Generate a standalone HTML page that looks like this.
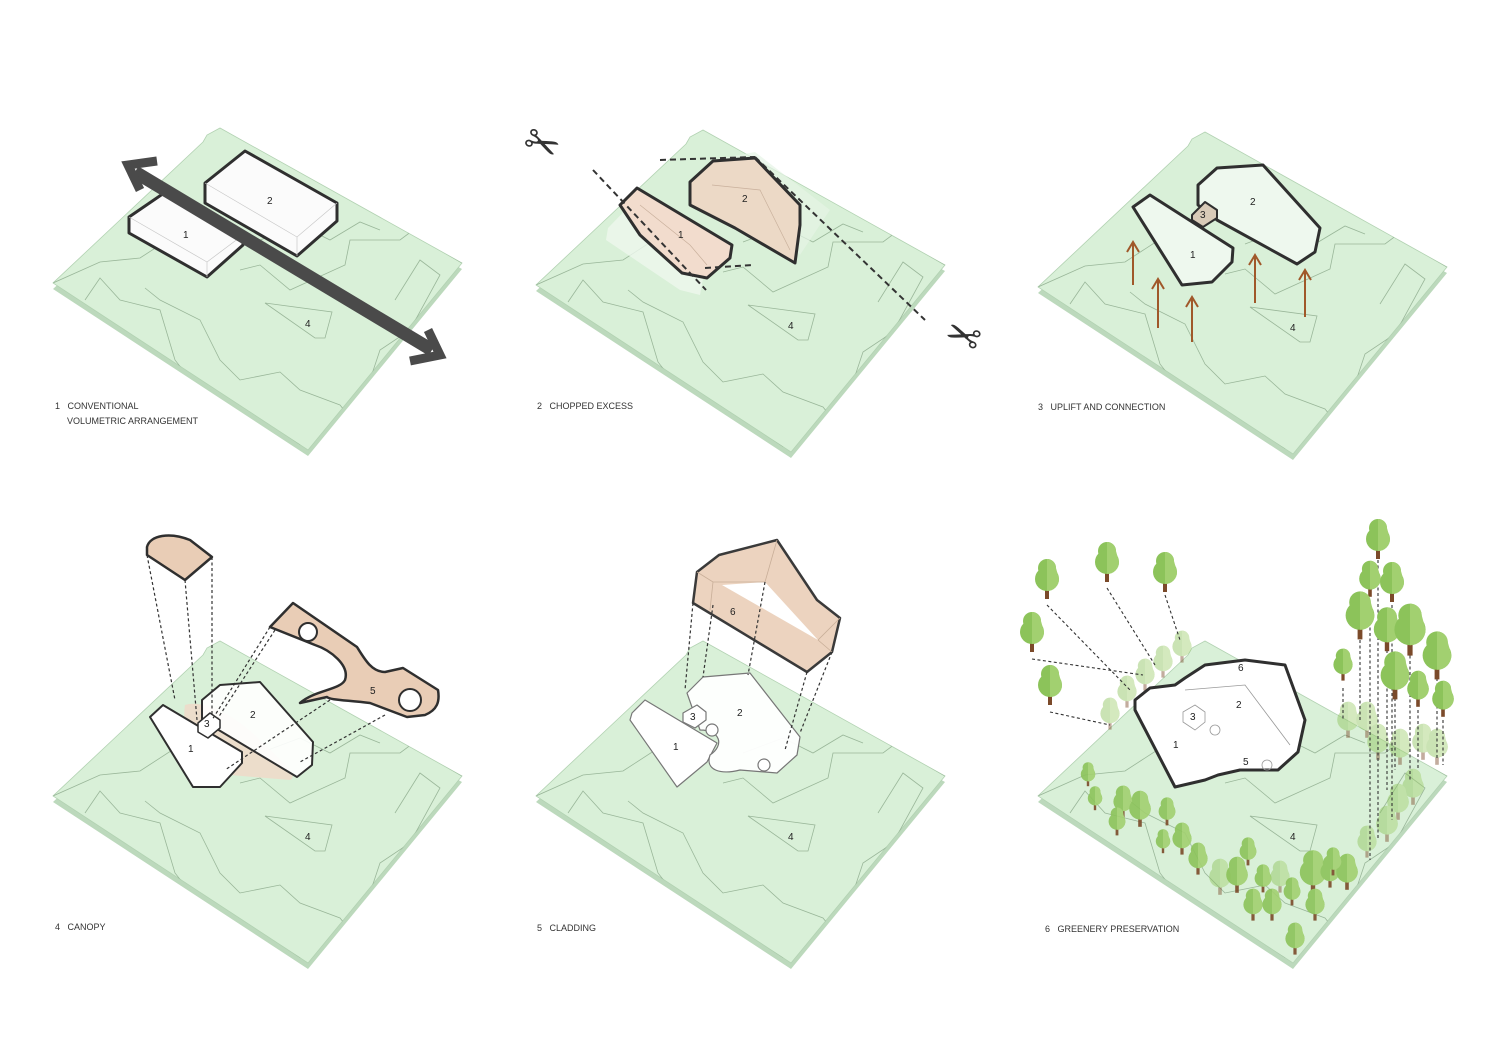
<!DOCTYPE html>
<html><head><meta charset="utf-8"><style>
html,body{margin:0;padding:0;background:#fff}
svg{display:block}
text{font-family:"Liberation Sans",Arial,sans-serif;fill:#333}
.lbl{font-size:9px}
.num{font-size:10px;fill:#222}
</style></head><body>
<svg width="1500" height="1061" viewBox="0 0 1500 1061" xmlns="http://www.w3.org/2000/svg">
<defs>
<clipPath id="sc"><polygon points="203,142 207,135 220,128 462,263 308,450 53,283"/></clipPath>
<g id="site">
  <polygon points="203,149 207,141 220,134 462,269 308,456 53,289" fill="#bcd9bc"/>
  <polygon points="203,142 207,135 220,128 462,263 308,450 53,283" fill="#d9f0d8" stroke="#b2d2b2" stroke-width="0.8"/>
  <g fill="none" stroke="#8aa88a" stroke-width="0.8" opacity="0.8" clip-path="url(#sc)">
    <polyline points="53,283 100,262 140,258 180,232 205,230"/>
    <polyline points="85,300 100,278 120,300 160,310 175,360 210,405 260,420 300,445"/>
    <polyline points="145,288 160,300 200,320 220,360 240,380 280,372 300,390 340,405 360,430"/>
    <polyline points="240,270 260,265 290,290 345,265 350,240 400,240 420,225 440,250 462,263"/>
    <polyline points="395,300 420,260 440,275 410,330 380,350 370,380 380,420"/>
    <polyline points="260,240 300,225 330,240 360,222 380,230"/>
    <polygon points="265,303 332,312 325,338 315,338"/>
  </g>
  <text x="305" y="327" class="num">4</text>
</g>
<g id="tr">
  <rect x="-2" y="8" width="4" height="14" fill="#7b4a2a"/>
  <circle cx="0" cy="-9" r="9" fill="#8cc35a"/>
  <circle cx="0" cy="2" r="12" fill="#8cc35a"/>
  <path d="M0,-18 A9,9 0 0 1 9,-9 L12,2 A12,12 0 0 1 0,14 Z" fill="#a2d070"/>
</g>
</defs>

<use href="#site"/>
<use href="#site" transform="translate(483,2)"/>
<use href="#site" transform="translate(985,4)"/>
<use href="#site" transform="translate(0,513)"/>
<use href="#site" transform="translate(483,513)"/>
<use href="#site" transform="translate(985,513)"/>

<!-- PANEL 1 -->
<g stroke="#2f2f2f" stroke-width="3" stroke-linejoin="round">
  <polygon points="129,217 167,191 243,235 243,245 207,277 129,233" fill="#fbfbfb"/>
  <polygon points="205,183 245,151 337,203 337,221 297,256 205,203" fill="#fbfbfb"/>
</g>
<g stroke="#c8c8c8" stroke-width="0.7" fill="none">
  <polyline points="129,217 207,262 243,235"/><line x1="207" y1="262" x2="207" y2="277"/>
  <polyline points="205,183 297,237 337,203"/><line x1="297" y1="237" x2="297" y2="256"/>
</g>
<text x="183" y="238" class="num">1</text><text x="267" y="204" class="num">2</text>
<line x1="135" y1="172" x2="432" y2="350" stroke="#4a4a4a" stroke-width="13"/>
<polyline points="157,161 128,165 140,190" fill="none" stroke="#4a4a4a" stroke-width="9"/>
<polyline points="410,361 440,355 428,330" fill="none" stroke="#4a4a4a" stroke-width="9"/>
<text x="55" y="409" class="lbl">1 &#160;&#160;CONVENTIONAL</text>
<text x="67" y="424" class="lbl">VOLUMETRIC ARRANGEMENT</text>

<!-- PANEL 2 -->
<polygon points="608,228 640,195 706,262 700,295 680,290 606,240" fill="#eef7ee" opacity="0.8"/>
<polygon points="712,160 755,152 830,210 800,255" fill="#e6f4e6" opacity="0.7"/>
<g stroke="#2f2f2f" stroke-width="3" stroke-linejoin="round">
  <polygon points="620,205 637,188 732,245 730,258 707,278 682,273 640,235" fill="#f2dccd"/>
  <polygon points="690,182 713,161 755,158 800,205 800,225 795,263 735,228 690,205" fill="#ecd9c6"/>
</g>
<g stroke="#c9b09c" stroke-width="0.7" fill="none">
  <polyline points="640,205 690,245 707,265"/><polyline points="712,185 760,190 790,250"/>
</g>
<text x="678" y="238" class="num">1</text><text x="742" y="202" class="num">2</text>
<g stroke="#333" stroke-width="2" stroke-dasharray="6,4" fill="none">
  <line x1="593" y1="170" x2="706" y2="290"/>
  <line x1="660" y1="160" x2="755" y2="157"/>
  <line x1="755" y1="157" x2="925" y2="320"/>
  <line x1="705" y1="268" x2="752" y2="265"/>
</g>
<text x="522" y="160" style="font-size:42px;fill:#333;font-family:'DejaVu Sans',sans-serif" transform="rotate(25 545 150)">✂</text>
<text x="918" y="345" style="font-size:42px;fill:#333;font-family:'DejaVu Sans',sans-serif" transform="rotate(200 950 330)">✂</text>
<text x="537" y="409" class="lbl">2 &#160;&#160;CHOPPED EXCESS</text>

<!-- PANEL 3 -->
<g stroke="#2f2f2f" stroke-width="3" stroke-linejoin="round">
  <polygon points="1133,207 1150,195 1233,248 1232,262 1212,282 1182,285" fill="#eef8ee"/>
  <polygon points="1198,185 1217,168 1263,165 1320,228 1315,252 1297,264 1217,220 1198,205" fill="#eef8ee"/>
  <polygon points="1192,215 1205,202 1217,210 1217,218 1203,227 1192,220" fill="#d9cbb8" stroke-width="2"/>
</g>
<text x="1190" y="258" class="num">1</text><text x="1250" y="205" class="num">2</text><text x="1200" y="218" class="num">3</text>
<g stroke="#a0582a" stroke-width="2" fill="none">
  <line x1="1133" y1="285" x2="1133" y2="242"/><polyline points="1127,252 1133,242 1139,252"/>
  <line x1="1158" y1="328" x2="1158" y2="279"/><polyline points="1152,289 1158,279 1164,289"/>
  <line x1="1192" y1="342" x2="1192" y2="297"/><polyline points="1186,307 1192,297 1198,307"/>
  <line x1="1255" y1="303" x2="1255" y2="255"/><polyline points="1249,265 1255,255 1261,265"/>
  <line x1="1305" y1="317" x2="1305" y2="270"/><polyline points="1299,280 1305,270 1311,280"/>
</g>
<text x="1038" y="410" class="lbl">3 &#160;&#160;UPLIFT AND CONNECTION</text>

<!-- PANEL 4 -->
<path d="M185,705 C200,700 230,710 260,740 C280,760 300,775 290,780 L230,775 C200,765 180,740 185,705 Z" fill="#f0d8c8" opacity="0.8"/>
<g stroke="#2f2f2f" stroke-width="2" stroke-linejoin="round">
  <polygon points="150,717 163,705 242,752 242,763 220,787 193,787" fill="#fff"/>
  <polygon points="202,700 220,685 260,682 313,742 312,765 297,777 202,720" fill="#fff" fill-opacity="0.9"/>
  <polygon points="198,723 210,713 220,720 220,728 208,738 198,732" fill="#fff" stroke-width="1.5"/>
</g>
<text x="188" y="752" class="num">1</text><text x="250" y="718" class="num">2</text><text x="204" y="727" class="num">3</text>
<g stroke="#2f2f2f" stroke-width="2.5" stroke-linejoin="round">
  <path d="M147,555 L147,547 C150,535 170,532 190,540 L212,557 L185,580 Z" fill="#e9cdb6"/>
  <path d="M270,627 L293,603 L357,647 C365,660 372,672 385,672 L403,668 L438,690 C440,702 437,710 425,715 L407,717 L370,703 C345,700 330,700 327,697 L300,703 C315,690 340,690 345,680 C350,665 330,650 315,645 Z" fill="#e9cdb6"/>
</g>
<circle cx="308" cy="632" r="9" fill="#fff" stroke="#2f2f2f" stroke-width="2"/>
<circle cx="410" cy="700" r="11" fill="#fff" stroke="#2f2f2f" stroke-width="2"/>
<text x="370" y="694" class="num">5</text>
<g stroke="#333" stroke-width="1.2" stroke-dasharray="3,2.5" fill="none">
  <line x1="147" y1="555" x2="175" y2="700"/><line x1="185" y1="580" x2="197" y2="720"/><line x1="212" y1="557" x2="212" y2="715"/>
  <line x1="270" y1="627" x2="212" y2="720"/><line x1="275" y1="630" x2="218" y2="718"/>
  <line x1="330" y1="700" x2="225" y2="770"/><line x1="385" y1="715" x2="300" y2="762"/>
</g>
<text x="55" y="930" class="lbl">4 &#160;&#160;CANOPY</text>

<!-- PANEL 5 -->
<g stroke="#777" stroke-width="1.2" stroke-linejoin="round" fill="#fff">
  <polygon points="632,713 645,700 717,743 707,762 677,787 630,720"/>
  <path d="M687,693 L703,677 L750,673 L800,737 L797,755 L777,773 L740,770 C720,775 705,770 710,755 C725,745 720,730 700,730 Z" fill="#fff" fill-opacity="0.95"/>
  <polygon points="683,713 697,705 706,712 706,720 695,728 683,722"/>
  <circle cx="712" cy="730" r="6"/><circle cx="764" cy="765" r="6"/>
</g>
<text x="673" y="750" class="num">1</text><text x="737" y="716" class="num">2</text><text x="690" y="720" class="num">3</text>
<path d="M697,572 L719,555 L777,540 L817,600 L840,618 L832,652 L807,672 L693,603 Z" fill="#ecd3bf" stroke="#3a3a3a" stroke-width="2.5" stroke-linejoin="round"/>
<polygon points="722,585 765,582 818,640" fill="#fff"/>
<g stroke="#c8ae98" stroke-width="0.8" fill="none"><polyline points="697,572 713,582 765,582 777,540"/><line x1="713" y1="582" x2="710" y2="610"/><polyline points="818,640 840,618"/><line x1="818" y1="640" x2="832" y2="652"/></g>
<text x="730" y="615" class="num">6</text>
<g stroke="#333" stroke-width="1.2" stroke-dasharray="3,2.5" fill="none">
  <line x1="693" y1="603" x2="685" y2="690"/><line x1="713" y1="605" x2="703" y2="677"/><line x1="765" y1="582" x2="748" y2="675"/>
  <line x1="807" y1="672" x2="785" y2="750"/><line x1="832" y1="652" x2="800" y2="733"/>
</g>
<text x="537" y="931" class="lbl">5 &#160;&#160;CLADDING</text>

<!-- PANEL 6 -->
<g opacity="0.45">
  <use href="#tr" transform="translate(1110,712) scale(0.8)"/><use href="#tr" transform="translate(1127,690) scale(0.8)"/>
  <use href="#tr" transform="translate(1145,673) scale(0.8)"/><use href="#tr" transform="translate(1163,660) scale(0.8)"/>
  <use href="#tr" transform="translate(1182,645) scale(0.8)"/>
  <use href="#tr" transform="translate(1348,718) scale(0.9)"/><use href="#tr" transform="translate(1367,718) scale(0.9)"/>
  <use href="#tr" transform="translate(1378,740) scale(0.9)"/><use href="#tr" transform="translate(1400,745) scale(0.9)"/>
  <use href="#tr" transform="translate(1423,740) scale(0.9)"/><use href="#tr" transform="translate(1437,745) scale(0.9)"/>
  <use href="#tr" transform="translate(1413,785) scale(0.9)"/><use href="#tr" transform="translate(1398,800) scale(0.9)"/>
  <use href="#tr" transform="translate(1387,822) scale(0.9)"/><use href="#tr" transform="translate(1367,840) scale(0.8)"/>
  <use href="#tr" transform="translate(1220,875) scale(0.9)"/><use href="#tr" transform="translate(1280,875) scale(0.8)"/>
</g>
<path d="M1135,700 L1150,688 L1175,685 L1185,678 L1205,665 L1245,660 L1285,665 L1305,720 L1298,752 L1278,770 L1240,770 L1218,775 L1205,780 L1175,787 L1135,710 Z" fill="#fff" stroke="#2f2f2f" stroke-width="3" stroke-linejoin="round"/>
<g stroke="#999" stroke-width="0.8" fill="none">
  <polygon points="1183,712 1195,705 1205,712 1205,722 1195,730 1183,722"/><polyline points="1185,690 1245,685 1290,745"/><circle cx="1215" cy="730" r="5"/><circle cx="1267" cy="765" r="5"/>
</g>
<text x="1173" y="748" class="num">1</text><text x="1236" y="708" class="num">2</text><text x="1190" y="720" class="num">3</text><text x="1243" y="765" class="num">5</text><text x="1238" y="671" class="num">6</text>
<g stroke="#333" stroke-width="1.1" stroke-dasharray="3,2.5" fill="none">
  <line x1="1047" y1="605" x2="1130" y2="690"/><line x1="1107" y1="588" x2="1155" y2="665"/>
  <line x1="1165" y1="595" x2="1180" y2="640"/><line x1="1032" y1="659" x2="1143" y2="675"/>
  <line x1="1050" y1="712" x2="1110" y2="725"/>
  <line x1="1378" y1="560" x2="1378" y2="840"/><line x1="1370" y1="600" x2="1370" y2="860"/>
  <line x1="1392" y1="605" x2="1392" y2="820"/><line x1="1360" y1="640" x2="1360" y2="720"/>
  <line x1="1387" y1="650" x2="1387" y2="790"/><line x1="1410" y1="650" x2="1410" y2="780"/>
  <line x1="1437" y1="678" x2="1437" y2="760"/><line x1="1343" y1="688" x2="1343" y2="720"/>
  <line x1="1395" y1="698" x2="1395" y2="770"/><line x1="1418" y1="710" x2="1418" y2="770"/>
  <line x1="1443" y1="720" x2="1443" y2="765"/>
</g>
<use href="#tr" transform="translate(1047,577)"/><use href="#tr" transform="translate(1107,560)"/>
<use href="#tr" transform="translate(1165,570)"/><use href="#tr" transform="translate(1032,630)"/>
<use href="#tr" transform="translate(1050,683)"/>
<use href="#tr" transform="translate(1378,537)"/><use href="#tr" transform="translate(1370,577) scale(0.9)"/>
<use href="#tr" transform="translate(1392,580)"/><use href="#tr" transform="translate(1360,613) scale(1.2)"/>
<use href="#tr" transform="translate(1387,627) scale(1.1)"/><use href="#tr" transform="translate(1410,627) scale(1.3)"/>
<use href="#tr" transform="translate(1437,653) scale(1.2)"/><use href="#tr" transform="translate(1343,663) scale(0.8)"/>
<use href="#tr" transform="translate(1395,673) scale(1.2)"/><use href="#tr" transform="translate(1418,687) scale(0.9)"/>
<use href="#tr" transform="translate(1443,697) scale(0.9)"/>
<g opacity="0.9">
<use href="#tr" transform="translate(1088,773) scale(0.6)"/><use href="#tr" transform="translate(1095,797) scale(0.6)"/>
<use href="#tr" transform="translate(1123,800) scale(0.8)"/><use href="#tr" transform="translate(1140,807) scale(0.9)"/>
<use href="#tr" transform="translate(1117,820) scale(0.7)"/><use href="#tr" transform="translate(1167,810) scale(0.7)"/>
<use href="#tr" transform="translate(1182,837) scale(0.8)"/><use href="#tr" transform="translate(1163,840) scale(0.6)"/>
<use href="#tr" transform="translate(1198,857) scale(0.8)"/><use href="#tr" transform="translate(1237,873) scale(0.9)"/>
<use href="#tr" transform="translate(1248,850) scale(0.7)"/><use href="#tr" transform="translate(1253,903) scale(0.8)"/>
<use href="#tr" transform="translate(1263,877) scale(0.7)"/><use href="#tr" transform="translate(1272,903) scale(0.8)"/>
<use href="#tr" transform="translate(1292,890) scale(0.7)"/><use href="#tr" transform="translate(1313,870) scale(1.1)"/>
<use href="#tr" transform="translate(1330,870) scale(0.8)"/><use href="#tr" transform="translate(1347,870) scale(0.9)"/>
<use href="#tr" transform="translate(1315,903) scale(0.8)"/><use href="#tr" transform="translate(1295,937) scale(0.8)"/>
<use href="#tr" transform="translate(1333,860) scale(0.7)"/>
</g>
<text x="1045" y="932" class="lbl">6 &#160;&#160;GREENERY PRESERVATION</text>
</svg>
</body></html>
